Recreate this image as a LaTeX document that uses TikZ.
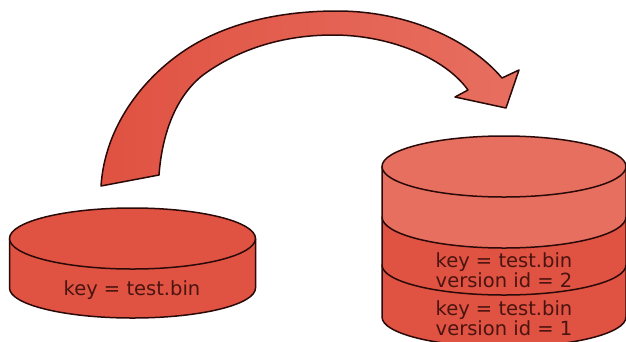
\documentclass[tikz,border=0pt]{standalone}
\usepackage{fontspec}
\setmainfont{DejaVu Sans}
\definecolor{redA}{HTML}{E05242}
\definecolor{redB}{HTML}{E76F60}
\definecolor{inkD}{HTML}{2A0A08}
\definecolor{txtD}{HTML}{4A1410}
\tikzset{
  outline/.style={draw=inkD,line width=1.5pt,line join=round},
  lab/.style={text=txtD,font=\fontsize{19.5}{19.5}\selectfont,inner sep=0pt,align=center},
}
\begin{document}
\begin{tikzpicture}[x=1pt,y=-1pt]
\useasboundingbox (0,0) rectangle (626,341);
\clip (0,0) rectangle (626,341);
% arrow
\path[outline,left color=redA,middle color=redA,right color=redB]
  (101,186) .. controls (105,125) and (145,75) .. (190,47)
  .. controls (232,21) and (285,11) .. (337,11)
  .. controls (405,11) and (468,38) .. (502,78)
  -- (519,70) -- (506,108) -- (455,97) -- (468,90)
  .. controls (445,58) and (390,35) .. (333,35)
  .. controls (285,35) and (240,48) .. (203,75)
  .. controls (175,97) and (162,135) .. (159,175)
  -- cycle;
% left disk
\path[outline,fill=redA] (9.5,238.5) -- (9.5,288) arc[start angle=180,end angle=0,x radius=123,y radius=30] -- (255.5,238.5) -- cycle;
\path[outline,fill=redA] (132.5,238.5) ellipse[x radius=123,y radius=30.5];
\node[lab] (leftkey) at (132,290) {key = test.bin};
% right stack
\path[outline,fill=redA] (382,265) -- (382,317) arc[start angle=180,end angle=0,x radius=122,y radius=30] -- (626,265) -- cycle;
\path[outline,fill=redA] (382,217) -- (382,265) arc[start angle=180,end angle=0,x radius=122,y radius=30] -- (626,217) -- cycle;
\path[outline,fill=redB] (382,166.5) -- (382,217) arc[start angle=180,end angle=0,x radius=122,y radius=31] -- (626,166.5) -- cycle;
\path[outline,fill=redB] (504,166.5) ellipse[x radius=122,y radius=30.5];
\node[lab] (keytwo) at (504,262) {key = test.bin};
\node[lab] (vertwo) at (504,280) {version id = 2};
\node[lab] (keyone) at (504,310) {key = test.bin};
\node[lab] (verone) at (504,328) {version id = 1};
\end{tikzpicture}
\end{document}
